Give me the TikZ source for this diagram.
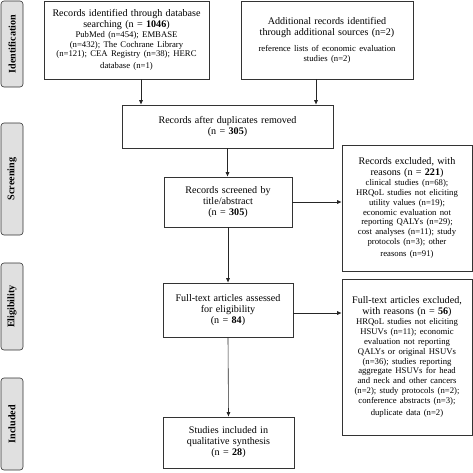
\documentclass[tikz,border=0pt]{standalone}
\usepackage{fontspec}
\setmainfont{Liberation Serif}
\usetikzlibrary{shapes}
\usetikzlibrary{arrows.meta}

\newcommand{\hd}{\fontsize{10.1}{11}\selectfont}
\newcommand{\sm}{\fontsize{8.7}{9.9}\selectfont}

\begin{document}
\begin{tikzpicture}[x=1pt,y=-1pt]
		\tikzstyle{every node}+=[inner sep=0pt]
		\tikzstyle{box}=[draw=black!80, line width=0.6pt, align=center]
		\tikzstyle{phase}=[draw=black!80, fill=black!12, rounded corners=3pt, line width=0.6pt, rotate=90, minimum height=22pt, font=\hd\bfseries]
		\tikzstyle{arr}=[-{Latex[length=4.5pt,width=4pt]}, line width=0.6pt, black!85]
		\useasboundingbox (0,0) rectangle (473,472);
		% phases on the left
		\node [phase, minimum width=86pt] (pident) at (12,44) {Identification};
		\node [phase, minimum width=112pt] (pscreen) at (12,179) {Screening};
		\node [phase, minimum width=87pt] (pelig) at (12,306.5) {Eligibility};
		\node [phase, minimum width=92pt] (pincl) at (12,424) {Included};
		% boxes
		\node [box, minimum width=165pt, minimum height=78pt, text width=163pt] (recdb) at (126.5,40)
			{{\hd Records identified through database\\ searching (n = \textbf{1046})\par}\sm PubMed (n=454); EMBASE\\ (n=432); The Cochrane Library\\ (n=121); CEA Registry (n=38); HERC\\ database (n=1)};
		\node [box, minimum width=172pt, minimum height=78pt, text width=168pt] (recadd) at (327,40)
			{{\hd Additional records identified\\ through additional sources (n=2)\par}\vspace{6pt}\sm reference lists of economic evaluation\\ studies (n=2)\par\vspace{14pt}};
		\node [box, minimum width=211pt, minimum height=43pt, text width=205pt, font=\hd] (recdup) at (227.5,126.5)
			{Records after duplicates removed\\ (n = \textbf{305})};
		\node [box, minimum width=128pt, minimum height=50pt, text width=124pt, font=\hd] (recscr) at (228,202)
			{Records screened by\\ title/abstract\\ (n = \textbf{305})};
		\node [box, minimum width=130pt, minimum height=126pt, text width=128pt] (recexcl) at (407,208)
			{{\hd Records excluded, with\\ reasons (n = \textbf{221})\par}\sm clinical studies (n=68);\\ HRQoL studies not eliciting\\ utility values (n=19);\\ economic evaluation not\\ reporting QALYs (n=29);\\ cost analyses (n=11); study\\ protocols (n=3); other\\ reasons (n=91)};
		\node [box, minimum width=130pt, minimum height=54pt, text width=126pt, font=\hd] (fulltext) at (228,310)
			{Full-text articles assessed\\ for eligibility\\ (n = \textbf{84})};
		\node [box, minimum width=130pt, minimum height=156pt, text width=128pt] (ftexcl) at (407,357)
			{{\hd Full-text articles excluded,\\ with reasons (n = \textbf{56})\par}\sm HRQoL studies not eliciting\\ HSUVs (n=11); economic\\ evaluation not reporting\\ QALYs or original HSUVs\\ (n=36); studies reporting\\ aggregate HSUVs for head\\ and neck and other cancers\\ (n=2); study protocols (n=2);\\ conference abstracts (n=3);\\ duplicate data (n=2)};
		\node [box, minimum width=131pt, minimum height=51pt, text width=127pt, font=\hd] (studies) at (228.5,442.5)
			{Studies included in\\ qualitative synthesis\\ (n = \textbf{28})};
		% arrows
		\draw [arr] ([xshift=14.5pt]recdb.south) -- ([xshift=14.5pt]recdb.south |- recdup.north);
		\draw [arr] ([xshift=-11pt]recadd.south) -- ([xshift=-11pt]recadd.south |- recdup.north);
		\draw [arr] (recdup.south) -- (recdup.south |- recscr.north);
		\draw [arr] (recscr.east) -- (recscr.east -| recexcl.west);
		\draw [arr] (recscr.south) -- (fulltext.north);
		\draw [arr] ([yshift=-3pt]fulltext.east) -- ([yshift=-3pt]fulltext.east -| ftexcl.west);
		\draw [arr] (fulltext.south) -- (studies.north);
\end{tikzpicture}
\end{document}
